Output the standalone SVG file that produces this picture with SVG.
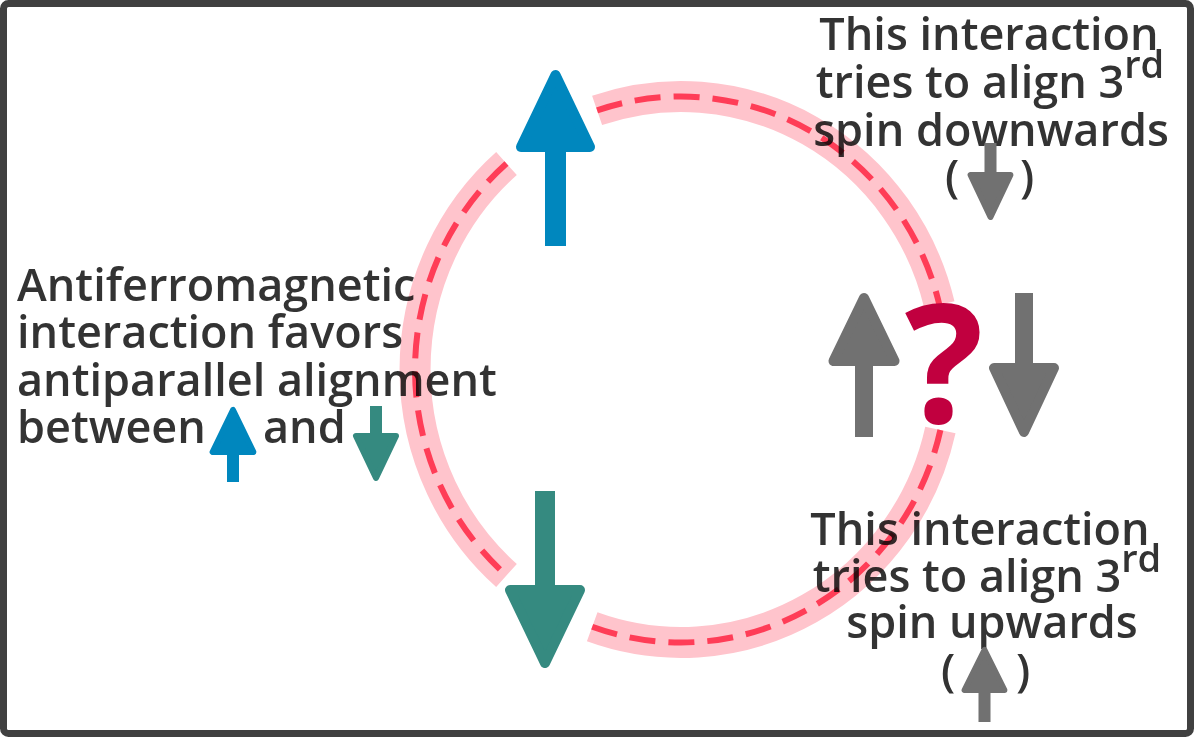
<svg xmlns="http://www.w3.org/2000/svg" width="1194" height="737" viewBox="0 0 1194 737">
<style>
  .band{fill:none;stroke:#ffc4cc;stroke-width:31}
  .dash{fill:none;stroke:#ff3d57;stroke-width:6;stroke-dasharray:26 13}
  .txt{font-family:"Open Sans","Liberation Sans",sans-serif;font-weight:600;font-size:45px;fill:#333333;mix-blend-mode:multiply}
  .mid{text-anchor:middle}
  .sup{font-size:38px}
  .blue{fill:#0087be;stroke:#0087be}
  .green{fill:#358a80;stroke:#358a80}
  .grey{fill:#717171;stroke:#717171}
  .head{stroke-linejoin:round}
  .big{stroke-width:10}
  .small{stroke-width:6}
  .shaft{stroke:none}
</style>
<rect x="3.5" y="3.5" width="1187" height="730" rx="5" fill="#ffffff" stroke="#404040" stroke-width="7"/>
<g id="connectors">
  <path class="band" d="M506.5,163.5 A266,273 0 0 0 506.5,575.5"/>
  <path class="dash" d="M506.5,163.5 A266,273 0 0 0 506.5,575.5"/>
  <path class="band" d="M597.1,110.4 A266,273 0 0 1 939.4,304.9"/>
  <path class="dash" d="M597.1,110.4 A266,273 0 0 1 939.4,304.9"/>
  <path class="band" d="M592.2,626.8 A266,273 0 0 0 940.4,430"/>
  <path class="dash" d="M592.2,626.8 A266,273 0 0 0 940.4,430"/>
</g>
<g id="spin-up-blue">
  <rect class="blue shaft" x="545" y="146" width="21" height="100"/>
  <polygon class="blue head big" points="555.5,75 521,147 590,147"/>
</g>
<g id="spin-down-green">
  <rect class="green shaft" x="535" y="491" width="20" height="100"/>
  <polygon class="green head big" points="510,590 580,590 545,663"/>
</g>
<g id="third-spin">
  <rect class="grey shaft" x="855" y="360" width="18" height="77"/>
  <polygon class="grey head big" points="864,298 833.5,361 894.5,361"/>
  <rect class="grey shaft" x="1015" y="293" width="18" height="75"/>
  <polygon class="grey head big" points="994,368 1054,368 1024,432"/>
  <text x="944" y="423" text-anchor="middle" font-family="'Open Sans','Liberation Sans',sans-serif" font-weight="700" font-size="165" fill="#c1003f">?</text>
</g>
<g id="label-left">
  <text class="txt" x="17" y="301">Antiferromagnetic</text>
  <text class="txt" x="17" y="348">interaction favors</text>
  <text class="txt" x="17" y="396">antiparallel alignment</text>
  <text class="txt" x="17" y="443">between</text>
  <text class="txt" x="263" y="443">and</text>
  <rect class="blue shaft" x="227" y="450" width="12" height="32"/>
  <polygon class="blue head small" points="233,410 212.6,452 253.4,452"/>
  <rect class="green shaft" x="370" y="406" width="12" height="30"/>
  <polygon class="green head small" points="356,436 396,436 376,478"/>
</g>
<g id="label-top-right">
  <text class="txt mid" x="989" y="50">This interaction</text>
  <text class="txt mid" x="990" y="98">tries to align 3<tspan class="sup" dy="-20">rd</tspan></text>
  <text class="txt mid" x="991" y="146">spin downwards</text>
  <text class="txt" x="945" y="192">(</text>
  <text class="txt" x="1020" y="192">)</text>
  <rect class="grey shaft" x="984.5" y="143" width="12" height="32"/>
  <polygon class="grey head small" points="970.6,175 1010.4,175 990.5,217"/>
</g>
<g id="label-bottom-right">
  <text class="txt mid" x="980" y="545">This interaction</text>
  <text class="txt mid" x="987" y="592">tries to align 3<tspan class="sup" dy="-20">rd</tspan></text>
  <text class="txt mid" x="992" y="638">spin upwards</text>
  <text class="txt" x="941" y="686">(</text>
  <text class="txt" x="1016" y="686">)</text>
  <rect class="grey shaft" x="978.5" y="688" width="12" height="34"/>
  <polygon class="grey head small" points="984.5,650 964.6,690 1004.4,690"/>
</g>
</svg>
